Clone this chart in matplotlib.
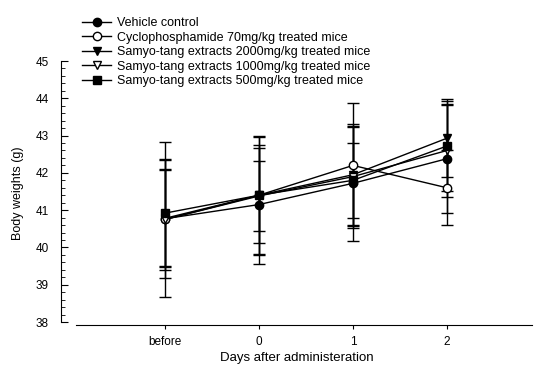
import matplotlib
matplotlib.use("Agg")
import matplotlib.pyplot as plt
from matplotlib.lines import Line2D
from matplotlib.ticker import MultipleLocator

plt.rcParams['font.family'] = ['Liberation Sans', 'DejaVu Sans']

days = ["before", "0", "1", "2"]
x = [0, 1, 2, 3]

vehicle = [40.77, 41.15, 41.72, 42.38]
vehicle_err = [1.6, 1.6, 1.55, 1.45]
cyclo = [40.75, 41.40, 42.20, 41.60]
cyclo_err = [2.07, 1.6, 1.67, 1.0]
st2000 = [40.78, 41.40, 41.95, 42.93]
st2000_err = [1.3, 1.28, 1.35, 1.05]
st1000 = [40.75, 41.38, 41.90, 42.60]
st1000_err = [1.35, 0.95, 1.33, 1.25]
st500 = [40.92, 41.40, 41.80, 42.72]
st500_err = [1.42, 1.57, 1.0, 1.2]

labels = ["Vehicle control",
          "Cyclophosphamide 70mg/kg treated mice",
          "Samyo-tang extracts 2000mg/kg treated mice",
          "Samyo-tang extracts 1000mg/kg treated mice",
          "Samyo-tang extracts 500mg/kg treated mice"]

fig = plt.figure(figsize=(5.41, 3.67), dpi=100)
ax = fig.add_axes([61 / 541, 1 - 325 / 367, (533 - 61) / 541, (325 - 61) / 367])

series = [
    (vehicle, vehicle_err, 'o', 'black'),
    (cyclo, cyclo_err, 'o', 'white'),
    (st2000, st2000_err, 'v', 'black'),
    (st1000, st1000_err, 'v', 'white'),
    (st500, st500_err, 's', 'black'),
]
handles = []
for (y, e, m, fc), lab in zip(series, labels):
    ax.errorbar(x, y, yerr=e, fmt='-' + m, color='black', mfc=fc, mec='black',
                ms=6, lw=1, elinewidth=1, capsize=4, capthick=1)
    handles.append(Line2D([], [], color='black', marker=m, mfc=fc, mec='black', ms=6, lw=1))

ax.set_xlim(-1.106, 3.915)
ax.set_ylim(37.92, 45)
ax.spines['top'].set_visible(False)
ax.spines['right'].set_visible(False)
ax.spines['left'].set_bounds(38, 45)
ax.spines['bottom'].set_bounds(-0.95, 3.9)

ax.set_xticks(x)
ax.set_xticklabels(days)
ax.yaxis.set_major_locator(MultipleLocator(1))
ax.yaxis.set_minor_locator(MultipleLocator(0.2))
ax.tick_params(axis='y', which='major', direction='in', length=5, labelsize=8.5, pad=9)
ax.tick_params(axis='y', which='minor', direction='in', length=3)
ax.tick_params(axis='x', direction='out', length=3, labelsize=8.5, pad=5)

ax.set_ylabel("Body weights (g)", fontsize=9, labelpad=8)
ax.set_xlabel("Days after administeration", fontsize=9.5, labelpad=3)

leg = fig.legend(handles, labels, loc='upper left', bbox_to_anchor=(76 / 541, 1 - 11 / 367),
                 frameon=False, fontsize=9, handlelength=2.3, handletextpad=0.45,
                 labelspacing=0.2, borderpad=0)

fig.savefig("out.png", dpi=100)
